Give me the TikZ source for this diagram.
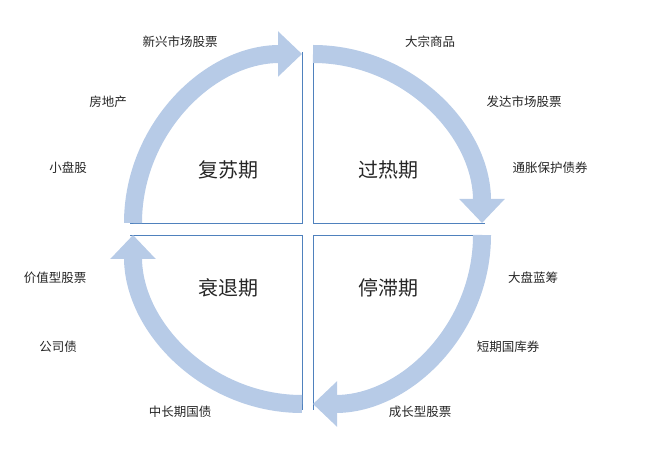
\documentclass[tikz,border=0pt]{standalone}
\usepackage{fontspec}
\setmainfont{Noto Sans CJK SC}
\usetikzlibrary{arrows.meta}
\definecolor{bandblue}{RGB}{183,203,231}
\definecolor{lineblue}{RGB}{79,129,189}
\tikzset{
    band/.style={draw=bandblue, line width=18pt, -{Triangle[width=44pt,length=24pt]}},
    quad/.style={draw=lineblue, line width=0.9pt},
    asset/.style={font=\fontsize{12.5}{14}\selectfont, text=black!85},
    phase/.style={font=\fontsize{20}{24}\selectfont, text=black!85}
}
\begin{document}
\begin{tikzpicture}[x=1pt, y=1pt]
    \useasboundingbox (0,0) rectangle (660,473);
    % quadrant lines
    \draw[quad] (130,250) -- (302,250) -- (302,421);
    \draw[quad] (313,421) -- (313,250) -- (485,250);
    \draw[quad] (485,238) -- (313,238) -- (313,63);
    \draw[quad] (302,63) -- (302,238) -- (130,238);
    % cycle arrows
    \draw[band] (133,250) arc[start angle=180, end angle=90, radius=169];
    \draw[band] (313,419) arc[start angle=90, end angle=0, radius=169];
    \draw[band] (482,238) arc[start angle=0, end angle=-90, radius=169];
    \draw[band] (302,69) arc[start angle=270, end angle=180, radius=169];
    % phases
    \node[phase] (recovery) at (228,303) {复苏期};
    \node[phase] (overheat) at (388,303) {过热期};
    \node[phase] (stagflation) at (388,185) {停滞期};
    \node[phase] (recession) at (228,185) {衰退期};
    % assets
    \node[asset] (emerging) at (180,431) {新兴市场股票};
    \node[asset] (realestate) at (108,371) {房地产};
    \node[asset] (smallcap) at (68,305) {小盘股};
    \node[asset] (commodity) at (430,431) {大宗商品};
    \node[asset] (developed) at (524,371) {发达市场股票};
    \node[asset] (tips) at (550,305) {通胀保护债券};
    \node[asset] (bluechip) at (533,195) {大盘蓝筹};
    \node[asset] (tbill) at (508,126) {短期国库券};
    \node[asset] (growth) at (420,61) {成长型股票};
    \node[asset] (value) at (55,195) {价值型股票};
    \node[asset] (corporate) at (58,126) {公司债};
    \node[asset] (treasury) at (180,61) {中长期国债};
\end{tikzpicture}
\end{document}
